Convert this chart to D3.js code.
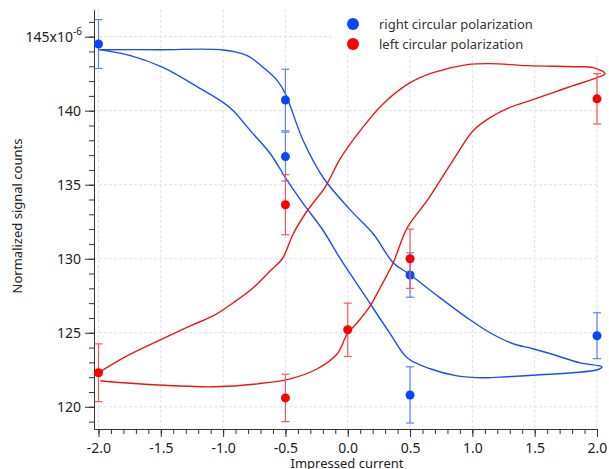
<!DOCTYPE html>
<html>
<head>
<meta charset="utf-8">
<script src="https://cdn.jsdelivr.net/npm/d3@7"></script>
<style>
  body { margin: 0; background: #fff; }
  svg { font-family: "Noto Sans", "DejaVu Sans", sans-serif; }
</style>
</head>
<body>
<svg class="chart" width="609" height="469"></svg>
<script>
// measured points (current, counts x1e-6) with error bars
const rightX = [-2.0, -0.5, -0.5, 0.5, 0.5, 2.0]
const rightY = [144.5, 140.72, 136.9, 128.9, 120.8, 124.8]
const rightErr = [1.65, 2.08, 1.65, 1.5, 1.9, 1.55]

const leftX = [-2.0, -0.5, -0.5, 0.0, 0.5, 2.0]
const leftY = [122.3, 133.65, 120.6, 125.2, 130.0, 140.8]
const leftErr = [1.95, 2.03, 1.6, 1.8, 2.0, 1.7]

// hand traced hysteresis loops
const rightLoopX = [-2.0, -1.5, -1.0, -0.806, -0.677, -0.565, -0.501, -0.357, -0.196, 0.02, 0.204, 0.365, 0.501, 0.741, 0.958, 1.142, 1.327, 1.487, 1.679, 1.864, 2.04,
  2.0, 1.808, 1.543, 1.279, 1.086, 0.878, 0.661, 0.477, 0.341, 0.14, -0.06, -0.196, -0.357, -0.485, -0.621, -0.782, -0.918, -0.998, -1.182, -1.479, -1.743, -2.0]
const rightLoopY = [144.12, 144.12, 144.1, 143.72, 142.91, 142.03, 141.15, 137.97, 135.47, 133.3, 131.69, 129.73, 128.92, 127.36, 126.01, 125.0, 124.26, 123.92, 123.45, 122.97, 122.7,
  122.5, 122.3, 122.16, 122.03, 121.96, 122.09, 122.57, 123.31, 124.93, 127.47, 130.0, 131.89, 133.72, 135.27, 137.09, 138.65, 140.0, 140.54, 141.49, 142.91, 143.72, 144.12]

const leftLoopX = [-2.0, -1.8, -1.487, -1.263, -1.078, -0.918, -0.758, -0.621, -0.525, -0.437, -0.325, -0.18, -0.06, 0.10, 0.285, 0.501, 0.685, 0.958, 1.142, 1.439, 1.808, 1.968, 2.064,
  2.0, 1.808, 1.647, 1.463, 1.279, 1.142, 1.006, 0.878, 0.741, 0.637, 0.477, 0.365, 0.26, 0.18, 0.076, -0.004, -0.084, -0.244, -0.461, -0.725, -1.078, -1.399, -1.8, -1.984]
const leftLoopY = [122.3, 123.31, 124.59, 125.47, 126.15, 127.03, 128.04, 129.19, 130.0, 131.69, 133.24, 134.86, 136.76, 138.65, 140.47, 141.89, 142.57, 143.11, 143.18, 143.04, 142.97, 142.91, 142.5,
  142.23, 141.69, 141.22, 140.68, 140.14, 139.53, 138.65, 137.09, 135.27, 133.92, 132.09, 129.73, 128.04, 126.82, 125.68, 124.93, 123.58, 122.57, 121.89, 121.55, 121.35, 121.42, 121.62, 121.76]

const xTicks = [-2.0, -1.5, -1.0, -0.5, 0.0, 0.5, 1.0, 1.5, 2.0]
const yTicks = [120, 125, 130, 135, 140, 145]
const seriesNames = ['right circular polarization', 'left circular polarization']

const blue = '#0a46ff', blueLine = '#1d4ff0', blueErr = '#5a82ff'
const red = '#ff0000', redLine = '#ee1515', redErr = '#ff5555'

const svg = d3.select('.chart')
const x = d3.scaleLinear().domain([-2.036, 2.0]).range([94, 597])
const y = d3.scaleLinear().domain([118.5, 146.8]).range([429, 10])

// grid
svg.append('g').selectAll('line')
  .data(xTicks)
  .enter().append('line')
  .attr('x1', d => x(d)).attr('x2', d => x(d))
  .attr('y1', y.range()[1]).attr('y2', y.range()[0])
  .attr('stroke', '#dcdfee').attr('stroke-dasharray', '3,2')
svg.append('g').selectAll('line')
  .data(yTicks)
  .enter().append('line')
  .attr('x1', x.range()[0]).attr('x2', x.range()[1])
  .attr('y1', d => y(d)).attr('y2', d => y(d))
  .attr('stroke', '#dcdfee').attr('stroke-dasharray', '3,2')

// legend background hides grid
svg.append('rect')
  .attr('x', 333).attr('y', 9).attr('width', 276).attr('height', 47)
  .attr('fill', '#fff')

// axes
const fmt = d => d.toFixed(1).replace('\u2212', '-')
const xAxis = d3.axisBottom(x).tickValues(xTicks).tickFormat(fmt).tickSize(8).tickSizeOuter(0)
const xMinor = d3.axisBottom(x).tickValues(d3.range(-20, 21).map(d => d / 10)).tickFormat('').tickSize(5).tickSizeOuter(0)
const yAxis = d3.axisLeft(y).tickValues(yTicks).tickFormat(d => d === 145 ? '' : d).tickSize(9).tickSizeOuter(0)
const yMinor = d3.axisLeft(y).tickValues(d3.range(119, 147)).tickFormat('').tickSize(5).tickSizeOuter(0)

const gx = svg.append('g').attr('transform', 'translate(0,429)')
gx.call(xMinor)
gx.append('g').call(xAxis)
const gy = svg.append('g').attr('transform', 'translate(94,0)')
gy.call(yMinor)
gy.append('g').call(yAxis)

svg.selectAll('.domain').attr('stroke', '#333')
svg.selectAll('.tick line').attr('stroke', '#333')
gx.selectAll('text').attr('font-size', '14px').attr('fill', '#222').attr('dy', '0.9em')
  .attr('font-family', '"Noto Sans", sans-serif')
gy.selectAll('text').attr('font-size', '14px').attr('fill', '#222').attr('dx', '-1px')
  .attr('font-family', '"Noto Sans", sans-serif')

// 145 label with exponent
const lab = svg.append('text')
  .attr('x', 82).attr('y', y(145) + 5)
  .attr('text-anchor', 'end')
  .attr('font-size', '14px').attr('fill', '#222')
lab.append('tspan').text('145x10')
lab.append('tspan').text('-6').attr('font-size', '10px').attr('dy', '-7')

// axis titles
svg.append('text')
  .text('Impressed current')
  .attr('x', 347).attr('y', 468)
  .attr('text-anchor', 'middle')
  .attr('font-size', '13px').attr('fill', '#222')
svg.append('text')
  .text('Normalized signal counts')
  .attr('transform', 'translate(22,216) rotate(-90)')
  .attr('text-anchor', 'middle')
  .attr('font-size', '13px').attr('fill', '#222')

// loops
const line = d3.line()
  .x(d => x(d[0])).y(d => y(d[1]))
  .curve(d3.curveCatmullRom.alpha(0.5))
svg.append('path')
  .datum(d3.zip(rightLoopX, rightLoopY))
  .attr('d', line)
  .attr('fill', 'none').attr('stroke', blueLine).attr('stroke-width', 1.4)
svg.append('path')
  .datum(d3.zip(leftLoopX, leftLoopY))
  .attr('d', line)
  .attr('fill', 'none').attr('stroke', redLine).attr('stroke-width', 1.4)

// error bars + dots
function drawPoints(xs, ys, errs, color, errColor) {
  const pts = xs.map((d, i) => ({ x: d, y: ys[i], e: errs[i] }))
  const g = svg.append('g')
  const eb = g.selectAll('g').data(pts).enter().append('g')
    .attr('stroke', errColor).attr('stroke-width', 1.2)
  eb.append('line')
    .attr('x1', d => x(d.x)).attr('x2', d => x(d.x))
    .attr('y1', d => y(d.y - d.e)).attr('y2', d => y(d.y + d.e))
  eb.append('line')
    .attr('x1', d => x(d.x) - 4).attr('x2', d => x(d.x) + 4)
    .attr('y1', d => y(d.y + d.e)).attr('y2', d => y(d.y + d.e))
  eb.append('line')
    .attr('x1', d => x(d.x) - 4).attr('x2', d => x(d.x) + 4)
    .attr('y1', d => y(d.y - d.e)).attr('y2', d => y(d.y - d.e))
  g.selectAll('circle').data(pts).enter().append('circle')
    .attr('cx', d => x(d.x)).attr('cy', d => y(d.y))
    .attr('r', 4.5).attr('fill', color)
}
drawPoints(rightX, rightY, rightErr, blue, blueErr)
drawPoints(leftX, leftY, leftErr, red, redErr)

// legend
const legend = svg.append('g')
seriesNames.forEach((name, i) => {
  legend.append('circle')
    .attr('cx', 353).attr('cy', 24 + i * 20).attr('r', 6)
    .attr('fill', i === 0 ? blue : red)
  legend.append('text')
    .text(name)
    .attr('x', 379).attr('y', 24 + i * 20)
    .attr('dy', '0.35em')
    .attr('font-size', '13px').attr('fill', '#333')
})
</script>
</body>
</html>
